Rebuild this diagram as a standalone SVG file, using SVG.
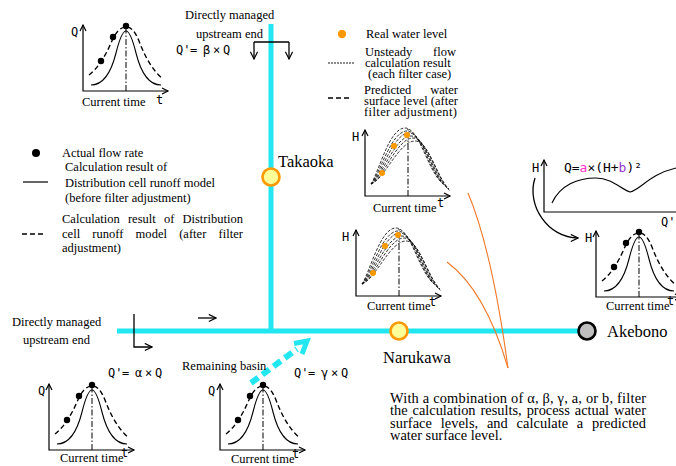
<svg xmlns="http://www.w3.org/2000/svg" xmlns:xlink="http://www.w3.org/1999/xlink" width="676" height="466" viewBox="0 0 676 466">
<style>
.t{font-family:"Liberation Serif","Times New Roman",serif;font-size:12.5px;fill:#000}
.big{font-family:"Liberation Serif","Times New Roman",serif;font-size:16.5px;fill:#000}
.para{font-family:"Liberation Serif","Times New Roman",serif;font-size:14.4px;fill:#000}
.m{font-family:"DejaVu Sans Mono","Liberation Mono",monospace;font-size:12px;fill:#000}
.ax{fill:none;stroke:#000;stroke-width:1.2}
.dd{fill:none;stroke:#000;stroke-width:1;stroke-dasharray:6,2,1.5,2}
.sol{fill:none;stroke:#000;stroke-width:1.1}
.dsh{fill:none;stroke:#000;stroke-width:1.4;stroke-dasharray:5,3}
.fam{fill:none;stroke:#000;stroke-width:0.8;stroke-dasharray:3,1.5}
.river{fill:none;stroke:#22e6f0;stroke-width:5}
.ln{fill:none;stroke:#000;stroke-width:1.3}
.or{fill:none;stroke:#f07828;stroke-width:1.1}
</style>
<defs>
<marker id="arr" viewBox="0 0 10 10" refX="9" refY="5" markerWidth="9" markerHeight="9" markerUnits="userSpaceOnUse" orient="auto">
<path d="M1,1 L9,5 L1,9" fill="none" stroke="#000" stroke-width="1.3"/>
</marker>
<g id="axes">
<path class="ax" d="M0,-66 L0,0 L85,0"/>
<path class="ax" d="M-3,-60 L0,-66 L3,-60 M79,-3 L85,0 L79,3"/>
</g>
<g id="qchart">
<use xlink:href="#axes"/>
<path class="dd" d="M43,0 L43,-64"/>
<path class="sol" d="M8,-6 C20,-6 28,-18 33,-38 C37,-54 40,-60 43,-60 C46,-60 49,-54 53,-38 C58,-18 66,-6 78,-6"/>
<path class="dsh" d="M6,-16 C14,-22 22,-34 28,-48 C33,-60 38,-64 43,-64 C48,-64 52,-60 56,-50 C62,-34 70,-20 80,-12"/>
<circle cx="43" cy="-65" r="3.2"/>
<circle cx="30" cy="-54" r="3.2"/>
<circle cx="18" cy="-30" r="3.2"/>
</g>
<g id="hchart">
<use xlink:href="#axes"/>
<path class="dd" d="M43,0 L43,-68"/>
<path class="fam" d="M6,-12 C14,-24 24,-68 40,-68 C54,-68 62,-28 76,-14"/>
<path class="fam" d="M6,-12 C15,-22 26,-65 42,-65 C56,-65 64,-26 78,-12"/>
<path class="fam" d="M6,-12 C16,-20 28,-63 44,-63 C58,-63 66,-24 80,-10"/>
<path class="fam" d="M6,-12 C17,-19 30,-60 46,-60 C60,-60 68,-22 82,-8"/>
<path class="fam" d="M6,-12 C18,-17 32,-58 48,-58 C62,-58 70,-20 84,-7"/>
<path class="fam" d="M6,-12 C19,-16 34,-55 50,-55 C64,-55 72,-18 85,-5"/>
<circle cx="17" cy="-23" r="3" fill="#ff9900"/>
<circle cx="29" cy="-50" r="3" fill="#ff9900"/>
<circle cx="42" cy="-61" r="3" fill="#ff9900"/>
</g>
</defs>

<g id="connectors">
<path class="river" d="M271,24 L271,331"/>
<path class="river" d="M117,331 L589,331"/>
<path class="ln" d="M254,42 L289,42"/>
<path class="ln" d="M254,42 L254,59" marker-end="url(#arr)"/>
<path class="ln" d="M289,42 L289,59" marker-end="url(#arr)"/>
<path class="ln" d="M134,314 L134,347 L152,347" marker-end="url(#arr)"/>
<path class="ln" d="M198,318 L216,318" marker-end="url(#arr)"/>
<path d="M251,383 L297,349" fill="none" stroke="#22e6f0" stroke-width="6" stroke-dasharray="9,5"/>
<polyline points="294,343.5 307,341 302,354" fill="none" stroke="#22e6f0" stroke-width="5"/>
<path class="or" d="M468,193 Q492,250 508,368"/>
<path class="or" d="M447,262 Q485,290 508,368"/>
<path class="ln" d="M535,178 C526,205 548,238 578,238" marker-end="url(#arr)"/>
</g>

<g id="node-takaoka">
<circle cx="271" cy="177" r="8.5" fill="#ffff99" stroke="#ff9900" stroke-width="2.6"/>
<text class="big" x="278" y="167">Takaoka</text>
</g>
<g id="node-narukawa">
<circle cx="399" cy="331" r="8.5" fill="#ffff99" stroke="#ff9900" stroke-width="2.6"/>
<text class="big" x="383" y="363">Narukawa</text>
</g>
<g id="node-akebono">
<circle cx="587" cy="331" r="8.5" fill="#bfbfbf" stroke="#000" stroke-width="2.6"/>
<text class="big" x="607" y="337">Akebono</text>
</g>

<g id="upstream-top">
<text class="t" x="185" y="19">Directly managed</text>
<text class="t" x="196" y="38">upstream end</text>
<text class="m" x="176" y="54">Q'</text>
<text class="m" x="190" y="54">=</text>
<text class="m" x="203" y="54" fill="#2ca02c">β</text>
<text class="m" x="213" y="54">×</text>
<text class="m" x="223" y="54">Q</text>
</g>
<g id="chart-top-left">
<use xlink:href="#qchart" x="83" y="91"/>
<text class="m" x="71" y="36">Q</text>
<text class="t" x="82" y="106">Current time</text>
<text class="m" x="156" y="104">t</text>
</g>

<g id="upstream-bottom">
<text class="t" x="12" y="326">Directly managed</text>
<text class="t" x="23" y="344">upstream end</text>
<text class="m" x="108" y="377">Q'</text>
<text class="m" x="122" y="377">=</text>
<text class="m" x="135" y="377" fill="#ff2020">α</text>
<text class="m" x="145" y="377">×</text>
<text class="m" x="155" y="377">Q</text>
</g>
<g id="chart-bottom-left">
<use xlink:href="#qchart" x="49" y="450"/>
<text class="m" x="38" y="395">Q</text>
<text class="t" x="60" y="462">Current time</text>
<text class="m" x="121" y="457">t</text>
</g>

<g id="remaining-basin">
<text class="t" x="182" y="370">Remaining basin</text>
<text class="m" x="294" y="377">Q'</text>
<text class="m" x="308" y="377">=</text>
<text class="m" x="321" y="377" fill="#2040ff">γ</text>
<text class="m" x="331" y="377">×</text>
<text class="m" x="341" y="377">Q</text>
</g>
<g id="chart-bottom-mid">
<use xlink:href="#qchart" x="220" y="450"/>
<text class="m" x="208" y="395">Q</text>
<text class="t" x="231" y="463">Current time</text>
<text class="m" x="292" y="458">t</text>
</g>

<g id="legend-left">
<circle cx="36" cy="153" r="4"/>
<text class="t" x="62" y="157">Actual flow rate</text>
<path d="M23,182 L48,182" stroke="#000" stroke-width="1.2"/>
<text class="t" x="65" y="171">Calculation result of</text>
<text class="t" x="65" y="187">Distribution cell runoff model</text>
<text class="t" x="65" y="202">(before filter adjustment)</text>
<path d="M22,234 L46,234" stroke="#000" stroke-width="1.4" stroke-dasharray="5,3"/>
<text class="t" x="62" y="223" word-spacing="5" textLength="181" lengthAdjust="spacing">Calculation result of Distribution</text>
<text class="t" x="62" y="238" word-spacing="9" textLength="181" lengthAdjust="spacing">cell runoff model (after filter</text>
<text class="t" x="62" y="252">adjustment)</text>
</g>

<g id="legend-right">
<circle cx="342" cy="34" r="4.2" fill="#ff9900"/>
<text class="t" x="366" y="38">Real water level</text>
<path d="M328,63 L355,63" stroke="#000" stroke-width="0.9" stroke-dasharray="2,1"/>
<text class="t" x="365" y="56">Unsteady</text>
<text class="t" x="456" y="56" text-anchor="end">flow</text>
<text class="t" x="365" y="67">calculation result</text>
<text class="t" x="368" y="78">(each filter case)</text>
<path d="M328,98 L352,98" stroke="#000" stroke-width="1.4" stroke-dasharray="5,3"/>
<text class="t" x="364" y="94">Predicted</text>
<text class="t" x="458" y="94" text-anchor="end">water</text>
<text class="t" x="364" y="105" textLength="94" lengthAdjust="spacing">surface level (after</text>
<text class="t" x="364" y="116" textLength="93" lengthAdjust="spacing">filter adjustment)</text>
</g>

<g id="chart-h1">
<use xlink:href="#hchart" x="365" y="196"/>
<text class="m" x="352" y="141">H</text>
<text class="t" x="373" y="212">Current time</text>
<text class="m" x="437" y="207">t</text>
</g>
<g id="chart-h2">
<use xlink:href="#hchart" x="356" y="296"/>
<text class="m" x="342" y="241">H</text>
<text class="t" x="367" y="310">Current time</text>
<text class="m" x="429" y="306">t</text>
</g>

<g id="chart-rating">
<path class="ax" d="M544,160 L544,212 L676,212"/>
<path class="ax" d="M541,166 L544,160 L547,166"/>
<path class="sol" d="M552,203 C560,185 578,178 596,178 C612,178 622,190 630,192 C640,190 650,174 676,168"/>
<text class="m" x="532" y="172">H</text>
<text class="m" x="564" y="172" textLength="78" lengthAdjust="spacingAndGlyphs">Q=<tspan fill="#ff33cc">a</tspan>×(H+<tspan fill="#9933cc">b</tspan>)²</text>
<text class="m" x="661" y="226">Q'</text>
</g>
<g id="chart-akebono">
<use xlink:href="#qchart" x="596" y="297"/>
<text class="m" x="585" y="242">H</text>
<text class="t" x="606" y="310">Current time</text>
<text class="m" x="667" y="305">t</text>
</g>

<g id="note">
<text class="para" x="390" y="403" textLength="256" lengthAdjust="spacing">With a combination of α, β, γ, a, or b, filter</text>
<text class="para" x="390" y="415" word-spacing="1.5" textLength="256" lengthAdjust="spacing">the calculation results, process actual water</text>
<text class="para" x="390" y="428" word-spacing="5" textLength="256" lengthAdjust="spacing">surface levels, and calculate a predicted</text>
<text class="para" x="390" y="440">water surface level.</text>
</g>
</svg>
